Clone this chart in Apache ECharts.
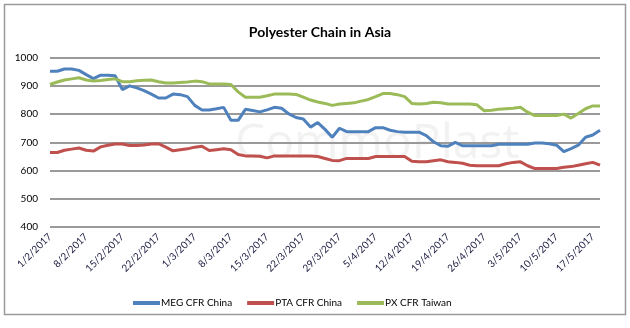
<!DOCTYPE html>
<html>
<head>
<meta charset="utf-8">
<script src="https://cdn.jsdelivr.net/npm/echarts@6/dist/echarts.min.js"></script>
<style>
html,body{margin:0;padding:0;background:#fff;}
#c{width:630px;height:328px;}
</style>
</head>
<body>
<div id="c"></div>
<script>
var categories = [
 '1/2/2017','2/2/2017','3/2/2017','6/2/2017','7/2/2017','8/2/2017','9/2/2017','10/2/2017','13/2/2017','14/2/2017',
 '15/2/2017','16/2/2017','17/2/2017','20/2/2017','21/2/2017','22/2/2017','23/2/2017','24/2/2017','27/2/2017','28/2/2017',
 '1/3/2017','2/3/2017','3/3/2017','6/3/2017','7/3/2017','8/3/2017','9/3/2017','10/3/2017','13/3/2017','14/3/2017',
 '15/3/2017','16/3/2017','17/3/2017','20/3/2017','21/3/2017','22/3/2017','23/3/2017','24/3/2017','27/3/2017','28/3/2017',
 '29/3/2017','30/3/2017','31/3/2017','3/4/2017','4/4/2017','5/4/2017','6/4/2017','7/4/2017','10/4/2017','11/4/2017',
 '12/4/2017','13/4/2017','14/4/2017','17/4/2017','18/4/2017','19/4/2017','20/4/2017','21/4/2017','24/4/2017','25/4/2017',
 '26/4/2017','27/4/2017','28/4/2017','1/5/2017','2/5/2017','3/5/2017','4/5/2017','5/5/2017','8/5/2017','9/5/2017',
 '10/5/2017','11/5/2017','12/5/2017','15/5/2017','16/5/2017','17/5/2017','18/5/2017'
];

var megCfrChina = [
 952,952,960,960,955,940,926,938,938,936,
 887,900,893,883,871,857,857,871,869,862,
 831,815,815,819,824,778,778,817,813,808,
 815,824,821,801,788,783,754,770,746,718,
 750,738,738,738,738,752,752,743,738,736,
 736,736,724,702,688,686,700,688,688,688,
 688,688,693,693,693,693,693,698,698,695,
 690,667,678,690,718,726,743
];

var ptaCfrChina = [
 664,664,672,676,680,672,669,684,690,694,
 694,689,689,691,694,695,683,670,674,677,
 683,686,671,674,677,674,657,652,652,651,
 645,652,652,652,652,652,652,650,643,636,
 635,643,643,643,643,650,650,650,650,650,
 633,631,631,635,638,631,629,626,619,617,
 617,617,617,624,629,631,617,607,607,607,
 607,612,614,619,624,629,619
];

var pxCfrTaiwan = [
 905,914,921,925,929,921,917,919,923,925,
 915,915,918,920,921,915,910,910,912,914,
 917,915,907,907,907,905,879,860,860,860,
 865,871,871,871,870,860,850,843,838,831,
 836,838,840,846,852,862,873,873,869,862,
 838,836,838,842,840,836,836,836,836,833,
 812,814,817,819,821,824,807,795,795,795,
 795,800,786,802,819,829,829
];

var yTicks = { min: 400, max: 1000, interval: 100 };
var seriesNames = ['MEG CFR China', 'PTA CFR China', 'PX CFR Taiwan'];
var colors = ['#4F81BD', '#C0504D', '#9BBB59'];

var chart = echarts.init(document.getElementById('c'), null, { renderer: 'canvas' });
var font = 'Lato, "Open Sans", "Liberation Sans", sans-serif';

function mkSeries(name, data, color) {
  return {
    name: name, type: 'line', data: data, showSymbol: false, symbol: 'none',
    lineStyle: { width: 3, color: color }, itemStyle: { color: color },
    animation: false, z: 3
  };
}

chart.setOption({
  animation: false,
  backgroundColor: '#ffffff',
  title: {
    text: 'Polyester Chain in Asia',
    left: 315, top: 20, textAlign: 'center',
    textStyle: { fontFamily: font, fontSize: 14, fontWeight: 'bold', color: '#000' }
  },
  graphic: [
    { type: 'rect', shape: { x: 4.5, y: 4.5, width: 621, height: 310 },
      style: { fill: null, stroke: '#9a9a9a', lineWidth: 1.5 }, z: 0 },
    { type: 'text', left: 235, top: 120, z: 0,
      style: { text: 'CommoPlast', font: '48px "Open Sans", sans-serif', fill: '#f2f2f2' } }
  ],
  legend: {
    left: 128, top: 293,
    icon: 'rect', itemWidth: 27, itemHeight: 4, itemGap: 15,
    textStyle: { fontFamily: font, fontSize: 10, color: '#000', padding: [0,0,0,-4] },
    data: seriesNames
  },
  grid: { left: 50, right: 30, top: 57.7, bottom: 101, containLabel: false },
  xAxis: {
    type: 'category', data: categories, boundaryGap: false,
    axisLine: { show: false },
    axisTick: { show: false },
    axisLabel: {
      interval: 4, rotate: 45, margin: 8,
      fontFamily: font, fontSize: 10, color: '#1a1a40'
    },
    splitLine: { show: false }
  },
  yAxis: {
    type: 'value', min: yTicks.min, max: yTicks.max, interval: yTicks.interval,
    axisLine: { show: false }, axisTick: { show: false },
    axisLabel: { margin: 12, fontFamily: font, fontSize: 10, color: '#000',
      formatter: function (v) { return String(v); } },
    splitLine: { lineStyle: { color: '#9a9a9a', width: 2 } }
  },
  series: [
    mkSeries(seriesNames[0], megCfrChina, colors[0]),
    mkSeries(seriesNames[1], ptaCfrChina, colors[1]),
    mkSeries(seriesNames[2], pxCfrTaiwan, colors[2])
  ]
});
</script>
</body>
</html>
